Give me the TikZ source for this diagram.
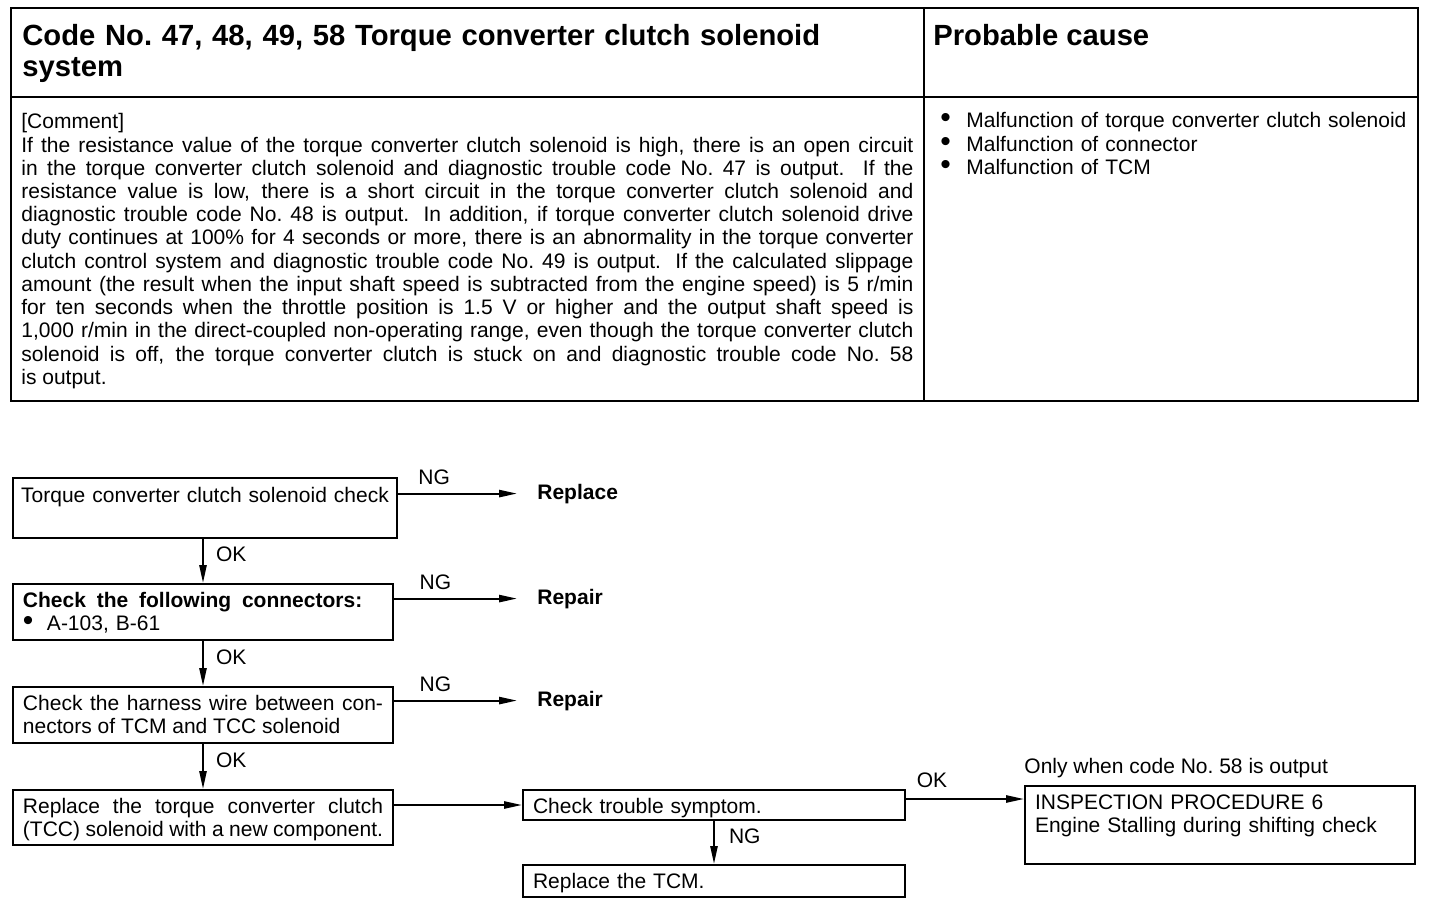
\documentclass[tikz,border=0pt]{standalone}
\usepackage{fontspec}
\setmainfont{Liberation Sans}
\usetikzlibrary{arrows.meta}

\newcommand\bodyfont{\fontsize{10.5}{11.6}\selectfont}
\newcommand\flowfont{\fontsize{10.5}{11.5}\selectfont}
\newcommand\headfont{\fontsize{14.6}{15.5}\selectfont\bfseries}
\newcommand\blt{\smash{\fontsize{15}{12}\selectfont\textbullet}}
\newcommand\bitem[1][13pt]{\makebox[#1][l]{\blt}}

\begin{document}
\begin{tikzpicture}[
    x=0.5pt, y=-0.5pt,
    tblframe/.style = {line width=1.4pt},
    tblrule/.style  = {line width=1pt},
    cell/.style     = {anchor=base west, inner sep=0pt},
    stepbox/.style  = {draw, line width=1pt, anchor=north west,
                       inner xsep=5pt, inner ysep=0pt, text height=11.5pt,
                       align=justify, font=\flowfont},
    verdict/.style  = {anchor=base west, inner sep=0pt, font=\flowfont\bfseries},
    flowtag/.style  = {inner sep=2pt, font=\flowfont},
    arrow/.style    = {-{Triangle[length=9pt, width=3.6pt]}, line width=1pt},
]
\useasboundingbox (0,0) rectangle (1440,904);

%% Table frame
\draw[tblframe] (11,8) rectangle (1418,401);
\draw[tblrule]  (11,97) -- (1418,97);
\draw[tblrule]  (924,8) -- (924,401);

%% Table header
\node[cell, text width=440pt, align=left, font=\headfont] (title) at (22,46)
    {Code No.\ 47, 48, 49, 58 Torque converter clutch solenoid\\ system};
\node[cell, font=\headfont] (causehead) at (933,46) {Probable cause};

%% Table body
\node[cell, text width=446pt, align=justify, font=\bodyfont] (comment) at (21,129)
    {[Comment]\\
     If the resistance value of the torque converter clutch solenoid is high, there is an open circuit\linebreak
     in the torque converter clutch solenoid and diagnostic trouble code No.\ 47 is output.  If the\linebreak
     resistance value is low, there is a short circuit in the torque converter clutch solenoid and\linebreak
     diagnostic trouble code No.\ 48 is output.  In addition, if torque converter clutch solenoid drive\linebreak
     duty continues at 100\% for 4 seconds or more, there is an abnormality in the torque converter\linebreak
     clutch control system and diagnostic trouble code No.\ 49 is output. If the calculated slippage\linebreak
     amount (the result when the input shaft speed is subtracted from the engine speed) is 5 r/min\linebreak
     for ten seconds when the throttle position is 1.5 V or higher and the output shaft speed is\linebreak
     1,000 r/min in the direct-coupled non-operating range, even though the torque converter clutch\linebreak
     solenoid is off, the torque converter clutch is stuck on and diagnostic trouble code No.\ 58\linebreak
     is output.};
\node[cell, text width=236pt, align=left, font=\fontsize{10.5}{12}\selectfont] (causes) at (940,127)
    {\bitem Malfunction of torque converter clutch solenoid\\
     \bitem Malfunction of connector\\
     \bitem Malfunction of TCM};

%% Flow boxes
\node[stepbox, inner xsep=2pt, text width=188pt, text height=12pt, text depth=18pt, align=center] (tccchk) at (12,477)
    {Torque converter clutch solenoid check};
\node[stepbox, text width=180pt, text depth=16.5pt, align=left] (connchk) at (12,583)
    {{\bfseries\spaceskip=5.4pt\relax Check the following connectors:}\\ \bitem[12pt]A-103, B-61};
\node[stepbox, text width=180pt, text depth=16.5pt] (harness) at (12,686)
    {Check the harness wire between con-\linebreak nectors of TCM and TCC solenoid};
\node[stepbox, text width=180pt, text depth=16pt] (tccrepl) at (12,789)
    {Replace the torque converter clutch\linebreak (TCC) solenoid with a new component.};
\node[stepbox, text width=181pt, text depth=3.5pt, align=left] (symptom) at (522,789)
    {Check trouble symptom.};
\node[stepbox, text width=181pt, text depth=4.5pt, align=left] (tcmrepl) at (522,864)
    {Replace the TCM.};
\node[stepbox, text width=185pt, text depth=27.5pt, align=left] (insp) at (1024,785)
    {INSPECTION PROCEDURE 6\\ Engine Stalling during shifting check};
\node[cell, font=\flowfont] (onlywhen) at ([yshift=6pt]insp.north west)
    {Only when code No.\ 58 is output};

%% Results
\node[verdict] (replace) at (537,499) {Replace};
\node[verdict] (repaira) at (537,604) {Repair};
\node[verdict] (repairb) at (537,706) {Repair};

%% NG branches
\draw[arrow, shorten >=10pt] (tccchk.east |- replace.west) -- (replace.west)
    node[flowtag, pos=0.26, above=2pt] (nga) {NG};
\draw[arrow, shorten >=10pt] (connchk.east |- repaira.west) -- (repaira.west)
    node[flowtag, pos=0.29, above=2pt] (ngb) {NG};
\draw[arrow, shorten >=10pt] (harness.east |- repairb.west) -- (repairb.west)
    node[flowtag, pos=0.29, above=2pt] (ngc) {NG};

%% OK chain
\draw[arrow] (connchk.north |- tccchk.south) -- (connchk.north)
    node[flowtag, pos=0.35, right=4pt] (oka) {OK};
\draw[arrow] (connchk.south) -- (harness.north)
    node[flowtag, pos=0.36, right=4pt] (okb) {OK};
\draw[arrow] (harness.south) -- (tccrepl.north)
    node[flowtag, pos=0.36, right=4pt] (okc) {OK};
\draw[arrow] (tccrepl.east |- symptom.west) -- (symptom.west);

%% Symptom check
\draw[arrow] ([yshift=3pt]symptom.east) -- ([yshift=3pt]symptom.east -| insp.west)
    node[flowtag, pos=0.22, above=3pt] (okd) {OK};
\draw[arrow] (symptom.south) -- (tcmrepl.north)
    node[flowtag, pos=0.36, right=5pt] (ngd) {NG};

\end{tikzpicture}
\end{document}
